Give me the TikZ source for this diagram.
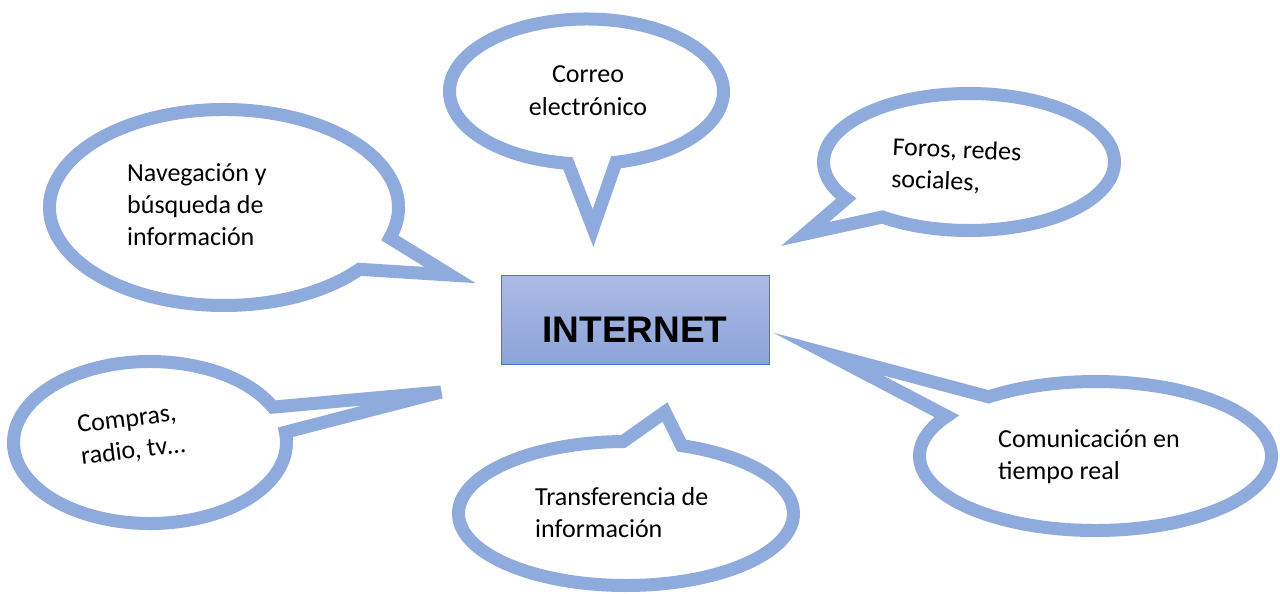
\documentclass[tikz,border=0pt]{standalone}
\usepackage{fontspec}
\setmainfont{Carlito}
\newfontfamily\headfont{Liberation Sans}
\definecolor{bubble}{RGB}{143,170,220}
\definecolor{boxtop}{RGB}{171,187,228}
\definecolor{boxbot}{RGB}{140,164,218}
\definecolor{boxline}{RGB}{72,118,206}
\begin{document}
\begin{tikzpicture}[x=1pt,y=1pt,
  bubble/.style={draw=bubble, fill=white, line width=13pt, line join=miter},
  txt/.style={inner sep=0pt, anchor=base west, font=\fontsize{26}{32}\selectfont},
  rtxt/.style={inner sep=0pt, align=left, anchor=north west, font=\fontsize{26}{32}\selectfont},
  headtxt/.style={inner sep=0pt, anchor=base, font=\headfont\bfseries\fontsize{37}{44}\selectfont},
  netbox/.style={draw=boxline, line width=1.2pt, top color=boxtop, bottom color=boxbot,
    minimum width=268pt, minimum height=89pt, inner sep=0pt, anchor=north west}]
\useasboundingbox (0,0) rectangle (1280,-594);

% Correo electronico
\coordinate (cC) at (586.5,-91.5);
\coordinate (tC) at (593,-228);
\draw[bubble] (cC) ++(-77.6:137 and 72.5) arc[start angle=-77.6, end angle=262.2, x radius=137, y radius=72.5] -- (tC) -- cycle;
\node[txt, anchor=base] (co1) at (588,-83) {Correo};
\node[txt, anchor=base] (co2) at (588,-115) {electrónico};

% Foros
\coordinate (cF) at (969,-162);
\coordinate (tF) at (805,-234);
\draw[bubble] (cF) ++(-126.6:145.5 and 68.5) arc[start angle=-126.6, end angle=212.4, x radius=145.5, y radius=68.5] -- (tF) -- cycle;
\node[rtxt, rotate=-2.5] (fo) at (893,-137) {Foros, redes\\sociales,};

% Navegacion
\coordinate (cN) at (224,-207.5);
\coordinate (tN) at (450,-275);
\draw[bubble] (cN) ++(-18.1:174.5 and 98) arc[start angle=-18.1, end angle=320.9, x radius=174.5, y radius=98] -- (tN) -- cycle;
\node[txt] (na1) at (127,-181) {Navegación y};
\node[txt] (na2) at (127,-213) {búsqueda de};
\node[txt] (na3) at (127,-245) {información};

% Compras
\coordinate (cP) at (150,-442.5);
\coordinate (tP) at (441,-392);
\draw[bubble, miter limit=5] (cP) ++(25.9:136.5 and 81) arc[start angle=25.9, end angle=367.3, x radius=136.5, y radius=81] -- (tP) -- cycle;
\node[rtxt, rotate=7] (cp) at (76,-416) {Compras,\\radio, tv…};

% Transferencia
\coordinate (cT) at (626,-513.5);
\coordinate (tT) at (665,-412);
\draw[bubble] (cT) ++(91:167.5 and 72) arc[start angle=91, end angle=430.6, x radius=167.5, y radius=72] -- (tT) -- cycle;
\node[txt] (tr1) at (535,-505) {Transferencia de};
\node[txt] (tr2) at (535,-537) {información};

% Comunicacion
\coordinate (cM) at (1095.5,-456);
\coordinate (tM) at (828,-354);
\draw[bubble, miter limit=20] (cM) ++(147.7:176 and 74.5) arc[start angle=147.7, end angle=487.4, x radius=176, y radius=74.5] -- (tM) -- cycle;
\node[txt] (cm1) at (998,-447) {Comunicación en};
\node[txt] (cm2) at (998,-479) {tiempo real};

% INTERNET
\node[netbox] (inet) at (500.5,-274.5) {};
\node[headtxt] (inettxt) at (635,-342.7) {INTERNET};
\end{tikzpicture}
\end{document}
